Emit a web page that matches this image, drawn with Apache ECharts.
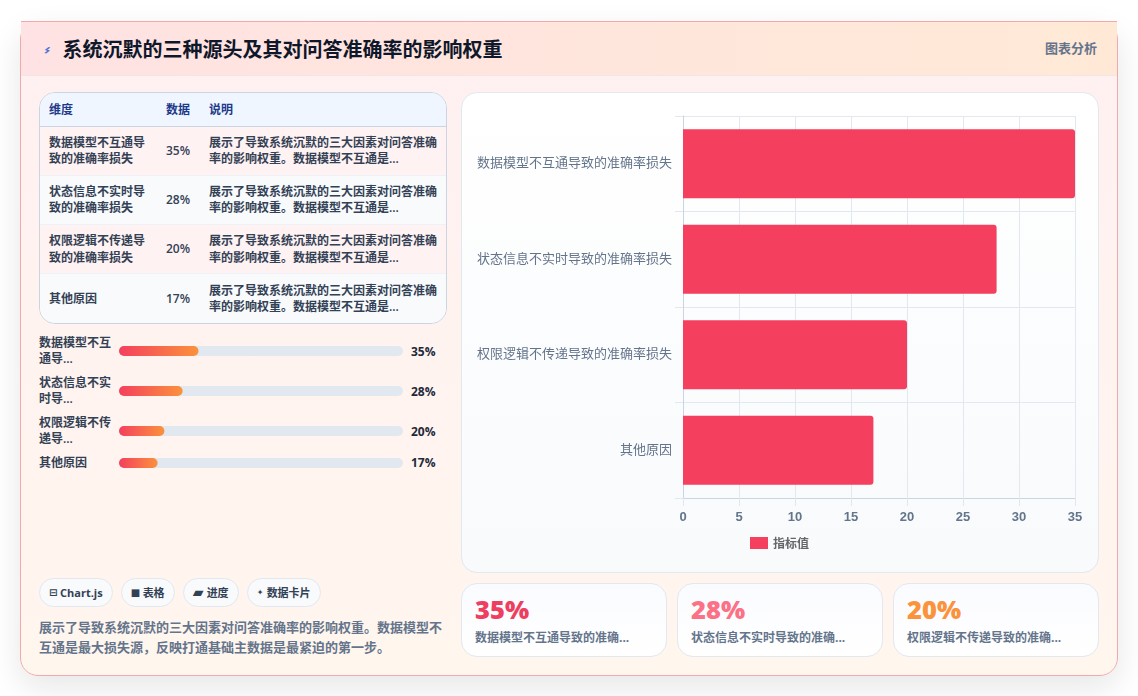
<!DOCTYPE html>
<html lang="zh-CN">
<head>
<meta charset="utf-8">
<title>系统沉默的三种源头及其对问答准确率的影响权重</title>
<script src="https://cdn.jsdelivr.net/npm/echarts@6/dist/echarts.min.js"></script>
<style>
*{box-sizing:border-box;margin:0;padding:0}
html,body{width:1138px;height:696px;overflow:hidden;background:#fff}
body{font-family:"Open Sans","Noto Sans CJK SC",sans-serif;position:relative}
.card{position:absolute;left:20px;top:21px;width:1098px;height:655px;border:1px solid #f2a9ac;border-radius:18px;
  background:linear-gradient(180deg,#fff0f1 0%,#fff3ef 50%,#fff6ee 100%);box-shadow:0 12px 32px rgba(15,23,42,.1)}
.head{position:absolute;left:0;top:-1px;width:1096px;height:55px;background:linear-gradient(90deg,#ffe2e3,#ffe9d6);border-bottom:1px solid #f1e6e6;border-top:1px solid #f2a9ac}
.icon{position:absolute;left:21px;top:18px;font-size:14px;color:#4a72d8;line-height:20px;font-family:"DejaVu Sans";transform:rotate(-75deg) scale(1,1.3)}
h1{position:absolute;left:41.5px;top:14px;font-size:20px;line-height:28px;font-weight:700;color:#0f172a;white-space:nowrap}
.tag{position:absolute;right:20px;top:17px;font-size:13px;line-height:18px;font-weight:700;color:#64748b}
.tbl{position:absolute;left:18px;top:70px;width:408px;height:232px;border:1px solid #cbd5e1;border-radius:16px;overflow:hidden;background:#f8fafc}
table{border-collapse:collapse;table-layout:fixed;width:100%;font-size:12px;line-height:16.5px;font-weight:600;color:#334155}
th{height:33px;background:#eff6ff;color:#1e3a8a;text-align:left;padding:2px 0 0 9px;border-bottom:1px solid #cbd5e1;font-weight:700}
td{padding:1px 10px 0 9px;border-bottom:1px solid #eef2f7;height:49.25px;vertical-align:middle}
th:nth-child(2),td:nth-child(2){padding-left:9px;padding-right:0}
th:nth-child(3),td:nth-child(3){padding:1px 8px 0 10px}
th:nth-child(3){padding-top:2px}
tr:last-child td{border-bottom:0}
tbody tr:nth-child(odd){background:#fff2f2}
tbody tr:nth-child(even){background:#f8fafc}
.bars{position:absolute;left:18px;top:313px;width:408px}
.row{display:flex;align-items:center;margin-bottom:8px}
.row:nth-child(3){margin-bottom:7px}
.row b{width:80px;font-size:12px;line-height:16px;font-weight:600;color:#334155}
.row .bar{width:284px;height:16px}
.row i{font-style:normal;margin-left:8px;font-size:12px;font-weight:700;color:#1e293b}
.chips{position:absolute;left:18px;top:556px;display:flex;gap:8px}
.chip{height:29px;padding:0 9px;border:1px solid #e2e8f0;border-radius:15px;background:#f8fafc;font-size:11px;line-height:27px;font-weight:700;color:#334155;white-space:nowrap;display:flex;align-items:center}
.chip u{text-decoration:none;display:inline-block;text-align:left;font-family:"DejaVu Sans";font-weight:700;width:12px;font-size:10px}
.chip:nth-child(1) u{width:11px}
.chip:nth-child(3) u{width:14px;font-size:14px;font-weight:400}
.chip:nth-child(4) u{width:10px;font-size:8px}
.desc{position:absolute;left:18px;top:596px;width:408px;font-size:13px;line-height:19.5px;font-weight:600;color:#64748b}
.panel{position:absolute;left:440px;top:70px;width:638px;height:481px;border:1px solid #e2e8f0;border-radius:16px;background:linear-gradient(180deg,#fff,#f8fafc)}
#chart{position:absolute;left:-1px;top:-1px;width:638px;height:481px}
.stat{position:absolute;top:561px;width:206px;height:74px;border:1px solid #e2e8f0;border-radius:16px;background:linear-gradient(180deg,#fafbff,#fff);padding:9px 13px}
.stat span{display:block;font-size:25.5px;line-height:33px;font-weight:800}
.stat em{display:block;font-style:normal;margin-top:3px;font-size:12px;line-height:18px;font-weight:700;color:#64748b;white-space:nowrap}
</style>
</head>
<body>
<div class="card">
  <div class="head"><div class="icon">⌁</div><h1 id="title"></h1><div class="tag">图表分析</div></div>
  <div class="tbl"><table>
    <colgroup><col style="width:117px"><col style="width:42px"><col></colgroup>
    <thead><tr id="thead"></tr></thead><tbody id="tbody"></tbody>
  </table></div>
  <div class="bars" id="bars"></div>
  <div class="chips" id="chips"></div>
  <div class="desc" id="desc"></div>
  <div class="panel"><div id="chart"></div></div>
  <div id="stats"></div>
</div>
<script>
// Source figures for the chart, table, progress rows and stat cards
const titleText = '系统沉默的三种源头及其对问答准确率的影响权重';
const categories = ['数据模型不互通导致的准确率损失', '状态信息不实时导致的准确率损失', '权限逻辑不传递导致的准确率损失', '其他原因'];
const values = [35, 28, 20, 17];
const shortLabels = ['数据模型不互通导...', '状态信息不实时导...', '权限逻辑不传递导...', '其他原因'];
const cardLabels = ['数据模型不互通导致的准确...', '状态信息不实时导致的准确...', '权限逻辑不传递导致的准确...'];
const cardColors = ['#ee3f60', '#fb7185', '#fb923c'];
const columns = ['维度', '数据', '说明'];
const noteShort = '展示了导致系统沉默的三大因素对问答准确率的影响权重。数据模型不互通是...';
const noteFull = '展示了导致系统沉默的三大因素对问答准确率的影响权重。数据模型不互通是最大损失源，反映打通基础主数据是最紧迫的第一步。';
const chipIcons = ['⊟', '■', '▰', '✦'];
const chipLabels = ['Chart.js', '表格', '进度', '数据卡片'];
const seriesName = '指标值';
const axisTicks = { min: 0, max: 35, interval: 5 };
const progressMax = 125;

document.getElementById('title').textContent = titleText;
document.getElementById('thead').innerHTML = columns.map(c => `<th>${c}</th>`).join('');
document.getElementById('tbody').innerHTML = categories.map((c, i) =>
  `<tr><td>${c}</td><td>${values[i]}%</td><td>${noteShort}</td></tr>`).join('');
document.getElementById('chips').innerHTML = chipLabels.map((c, i) =>
  `<div class="chip"><u>${chipIcons[i]}</u>${c}</div>`).join('');
document.getElementById('desc').textContent = noteFull;
document.getElementById('stats').innerHTML = cardLabels.map((l, i) =>
  `<div class="stat" style="left:${440 + i * 216}px"><span style="color:${cardColors[i]}">${values[i]}%</span><em>${l}</em></div>`).join('');
document.getElementById('bars').innerHTML = shortLabels.map((l, i) =>
  `<div class="row"><b>${l}</b><div class="bar" id="bar${i}"></div><i>${values[i]}%</i></div>`).join('');

// Progress rows: one compact bar per row, scaled against the shared maximum
values.forEach((v, i) => {
  const c = echarts.init(document.getElementById('bar' + i), null, { renderer: 'canvas' });
  c.setOption({
    animation: false,
    grid: { left: 0, right: 0, top: 0, bottom: 0 },
    xAxis: { type: 'value', min: 0, max: progressMax, show: false },
    yAxis: { type: 'category', data: [shortLabels[i]], show: false },
    series: [{
      type: 'bar', data: [v], barWidth: 10,
      showBackground: true,
      backgroundStyle: { color: '#e2e8f0', borderRadius: 5 },
      itemStyle: {
        borderRadius: 5,
        color: new echarts.graphic.LinearGradient(0, 0, 1, 0, [
          { offset: 0, color: '#f43f5e' }, { offset: 1, color: '#fb923c' }
        ])
      }
    }]
  });
});

// Main horizontal bar chart
const chart = echarts.init(document.getElementById('chart'), null, { renderer: 'canvas' });
chart.setOption({
  animation: false,
  grid: { left: 222, right: 24, top: 24, bottom: 75 },
  legend: {
    left: 284, top: 440, itemWidth: 18, itemHeight: 12, itemGap: 5,
    icon: 'rect',
    data: [seriesName],
    textStyle: { color: '#666', fontSize: 12, fontWeight: 600, fontFamily: '"Noto Sans CJK SC"' }
  },
  xAxis: {
    type: 'value', min: axisTicks.min, max: axisTicks.max, interval: axisTicks.interval,
    axisLine: { show: true, lineStyle: { color: '#cbd5e1' } },
    axisTick: { show: true, length: 8, lineStyle: { color: '#e2e8f0' } },
    axisLabel: { color: '#64748b', fontSize: 13, fontWeight: 700, margin: 13, fontFamily: '"Liberation Sans"' },
    splitLine: { show: true, lineStyle: { color: '#e2e8f0' } }
  },
  yAxis: {
    type: 'category', inverse: true, data: categories,
    axisLine: { show: true, lineStyle: { color: '#cbd5e1' } },
    axisTick: { show: true, length: 8, lineStyle: { color: '#e2e8f0' } },
    axisLabel: { color: '#64748b', fontSize: 13, margin: 11, verticalAlign: 'bottom', lineHeight: 3, fontFamily: '"Noto Sans CJK SC"' },
    splitLine: { show: true, lineStyle: { color: '#e2e8f0' } }
  },
  series: [{
    name: seriesName, type: 'bar', data: values, barWidth: '72%',
    itemStyle: { color: '#f43f5e', borderRadius: [0, 3, 3, 0] }
  }]
});
</script>
</body>
</html>
